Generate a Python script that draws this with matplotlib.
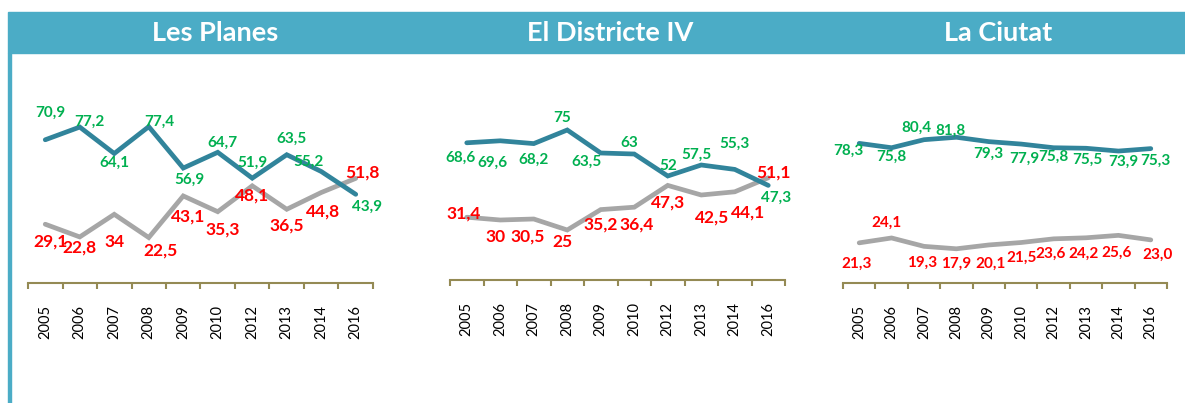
import matplotlib.pyplot as plt
from matplotlib.patches import Rectangle

plt.rcParams['font.family'] = ['Lato', 'DejaVu Sans']

years = ['2005', '2006', '2007', '2008', '2009', '2010', '2012', '2013', '2014', '2016']
titles = ['Les Planes', 'El Districte IV', 'La Ciutat']

planes_top = [70.9, 77.2, 64.1, 77.4, 56.9, 64.7, 51.9, 63.5, 55.2, 43.9]
planes_low = [29.1, 22.8, 34, 22.5, 43.1, 35.3, 48.1, 36.5, 44.8, 51.8]
districte_top = [68.6, 69.6, 68.2, 75, 63.5, 63, 52, 57.5, 55.3, 47.3]
districte_low = [31.4, 30, 30.5, 25, 35.2, 36.4, 47.3, 42.5, 44.1, 51.1]
ciutat_top = [78.3, 75.8, 80.4, 81.8, 79.3, 77.9, 75.8, 75.5, 73.9, 75.3]
ciutat_low = [21.3, 24.1, 19.3, 17.9, 20.1, 21.5, 23.6, 24.2, 25.6, 23.0]

planes_top_txt = ['70,9', '77,2', '64,1', '77,4', '56,9', '64,7', '51,9', '63,5', '55,2', '43,9']
planes_low_txt = ['29,1', '22,8', '34', '22,5', '43,1', '35,3', '48,1', '36,5', '44,8', '51,8']
districte_top_txt = ['68,6', '69,6', '68,2', '75', '63,5', '63', '52', '57,5', '55,3', '47,3']
districte_low_txt = ['31,4', '30', '30,5', '25', '35,2', '36,4', '47,3', '42,5', '44,1', '51,1']
ciutat_top_txt = ['78,3', '75,8', '80,4', '81,8', '79,3', '77,9', '75,8', '75,5', '73,9', '75,3']
ciutat_low_txt = ['21,3', '24,1', '19,3', '17,9', '20,1', '21,5', '23,6', '24,2', '25,6', '23,0']

# label offsets in pixels (dx, dy up) - placement only
planes_top_off = [(5, 27), (10, 5), (0, -9), (11, 5), (6, -12), (5, 10), (0, 15), (5, 16), (-13, 10), (11, -12)]
planes_low_off = [(5, -17), (0, -11), (0, -28), (12, -13), (5, -21), (5, -18), (0, -10), (0, -16), (2, -19), (7, 6)]
districte_top_off = [(-6, -15), (-8, -22), (0, -16), (-5, 12), (-14, -9), (-5, 11), (0, 10), (-5, 10), (0, 26), (8, -12)]
districte_low_off = [(-3, 4), (-5, -17), (-6, -18), (-5, -12), (0, -15), (2, -17), (0, -17), (11, -23), (13, -21), (5, 5)]
ciutat_top_off = [(-11, -7), (0, -9), (-8, 12), (-6, 6), (0, -12), (3, -15), (0, -9), (1, -12), (5, -11), (5, -12)]
ciutat_low_off = [(-3, -21), (-5, 15), (-2, -16), (0, -15), (2, -19), (0, -15), (-3, -15), (-2, -16), (-2, -17), (7, -15)]

W, H = 1185, 403
band_color = '#4BACC6'
blue = '#31849B'
gray = '#A6A6A6'
green = '#00B050'
red = '#FF0000'
olive = '#948A54'

fig = plt.figure(figsize=(W / 100, H / 100), dpi=100)


def px_rect(x0, x1, ytop, ybot):
    return [x0 / W, 1 - ybot / H, (x1 - x0) / W, (ybot - ytop) / H]


# header band and left border
fig.patches.append(Rectangle((8 / W, 1 - 53 / H), 1 - 8 / W, 41 / H,
                             transform=fig.transFigure, color=band_color, zorder=0))
fig.patches.append(Rectangle((8 / W, 0), 3 / W, 1 - 53 / H,
                             transform=fig.transFigure, color=band_color, zorder=0))
title_x = [215, 610, 998]
for tx, t in zip(title_x, titles):
    fig.text(tx / W, 1 - 33 / H, t, color='white', fontsize=19.5, fontweight='bold',
             ha='center', va='center')

panels = [
    (px_rect(28, 373, 81, 283), (0, 100), planes_top, planes_low, planes_top_txt, planes_low_txt,
     planes_top_off, planes_low_off, 12.5),
    (px_rect(450, 785, 80, 280), (0, 100), districte_top, districte_low, districte_top_txt,
     districte_low_txt, districte_top_off, districte_low_off, 12.5),
    (px_rect(843, 1167, 105.5, 283), (-1.7, 100), ciutat_top, ciutat_low, ciutat_top_txt,
     ciutat_low_txt, ciutat_top_off, ciutat_low_off, 11),
]

x = list(range(len(years)))
for rect, ylim, top, low, top_txt, low_txt, top_off, low_off, red_size in panels:
    ax = fig.add_axes(rect)
    ax.set_facecolor('none')
    ax.plot(x, low, color=gray, lw=3.4, solid_capstyle='round', solid_joinstyle='miter')
    ax.plot(x, top, color=blue, lw=3.4, solid_capstyle='round', solid_joinstyle='miter')
    for i in x:
        ax.annotate(top_txt[i], (i, top[i]), xytext=top_off[i], textcoords='offset pixels',
                    ha='center', va='center', color=green, fontsize=11, fontweight='bold')
        ax.annotate(low_txt[i], (i, low[i]), xytext=low_off[i], textcoords='offset pixels',
                    ha='center', va='center', color=red, fontsize=red_size, fontweight='bold')
    ax.set_xlim(-0.5, len(years) - 0.5)
    ax.set_ylim(*ylim)
    for s in ['top', 'right', 'left']:
        ax.spines[s].set_visible(False)
    ax.spines['bottom'].set_color(olive)
    ax.spines['bottom'].set_linewidth(1.5)
    ax.set_yticks([])
    ax.set_xticks(x)
    ax.set_xticklabels(years, rotation=90, fontsize=10.5)
    ax.tick_params(axis='x', which='major', length=0, pad=16)
    ax.set_xticks([i - 0.5 for i in range(len(years) + 1)], minor=True)
    ax.tick_params(axis='x', which='minor', length=4, width=1.5, color=olive)

fig.savefig('out.png', dpi=100)
